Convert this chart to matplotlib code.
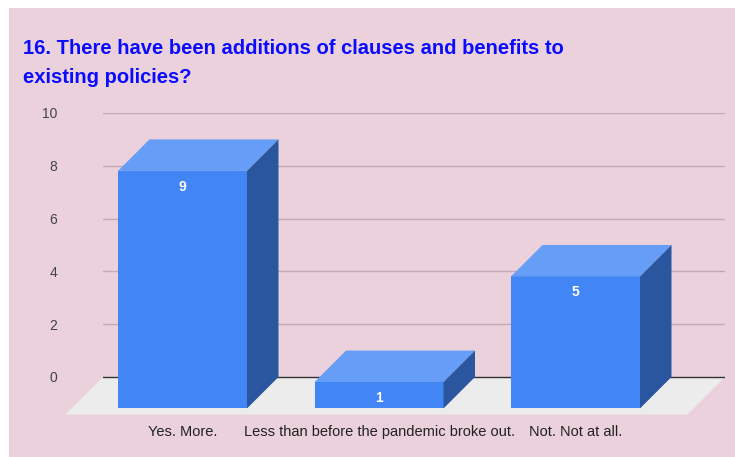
import matplotlib.pyplot as plt
from matplotlib.patches import Polygon, Rectangle

# datos
categorias = ["Yes. More.", "Less than before the pandemic broke out.", "Not. Not at all."]
valores = [9, 1, 5]
yticks = [0, 2, 4, 6, 8, 10]
titulo = ["16. There have been additions of clauses and benefits to", "existing policies?"]

# colores
fondo = "#ead1dc"
c_frente = "#4285f4"
c_arriba = "#669df6"
c_lado = "#2a56a0"
c_piso = "#ececec"

W, H = 735, 457
fig = plt.figure(figsize=(W / 100, H / 100), dpi=100, facecolor="white")
fig.patches.append(Rectangle((9 / W, 0), 1 - 9 / W, 1 - 8 / H, transform=fig.transFigure,
                             facecolor=fondo, edgecolor="none", zorder=-10))

ymin = -1.6
ax = fig.add_axes([103 / W, 1 - 419.2 / H, 622 / W, (419.2 - 113) / H])
ax.set_facecolor("none")
ax.set_xlim(-0.4046, 2.7608)
ax.set_ylim(ymin, 10)
for s in ax.spines.values():
    s.set_visible(False)

# escala en unidades de datos
px_x = 1 / 196.5
px_y = 1 / 26.4
w = 129 * px_x
dxb, dyb = 31.5 * px_x, 31.5 * px_y   # profundidad barras
dxf, dyf = 37.5 * px_x, 37.5 * px_y   # profundidad piso

# piso
x0, x1 = ax.get_xlim()
ax.add_patch(Polygon([(x0, 0), (x1, 0), (x1 - dxf, -dyf), (x0 - dxf, -dyf)],
                     closed=True, facecolor=c_piso, edgecolor="none", clip_on=False, zorder=1))

# lineas de cuadricula
for t in yticks[1:]:
    ax.axhline(t, color="#c2a9b4", lw=1, zorder=0)
ax.axhline(0, color="#333333", lw=1, zorder=1.5)

# barras 3d
for i, v in enumerate(valores):
    l, r = i - w / 2, i + w / 2
    ax.add_patch(Rectangle((l, -dyb), w, v, facecolor=c_frente, edgecolor="none", zorder=3, clip_on=False))
    ax.add_patch(Polygon([(l, v - dyb), (r, v - dyb), (r + dxb, v), (l + dxb, v)],
                         closed=True, facecolor=c_arriba, edgecolor="none", zorder=3))
    ax.add_patch(Polygon([(r, -dyb), (r + dxb, 0), (r + dxb, v), (r, v - dyb)],
                         closed=True, facecolor=c_lado, edgecolor="none", zorder=3))
    ax.text(i, v - dyb - 0.6, str(v), ha="center", va="center", color="white",
            fontsize=10, fontweight="bold", family="Liberation Sans", zorder=4)

ax.set_yticks(yticks)
ax.set_yticklabels([str(t) for t in yticks], family="Liberation Sans", fontsize=10, color="#444444")
ax.tick_params(axis="y", length=0, pad=33)
ax.set_xticks(range(len(categorias)))
ax.set_xticklabels(categorias, family="Liberation Sans", fontsize=10.5, color="#222222")
ax.tick_params(axis="x", length=0, pad=4)

# titulo en dos lineas
for k, linea in enumerate(titulo):
    fig.text(23 / W, 1 - (54 + 29 * k) / H, linea, ha="left", va="baseline", color="#0a0aff",
             fontsize=14.5, fontweight="bold", family="Liberation Sans")

fig.savefig("out.png", dpi=100, facecolor="white")
